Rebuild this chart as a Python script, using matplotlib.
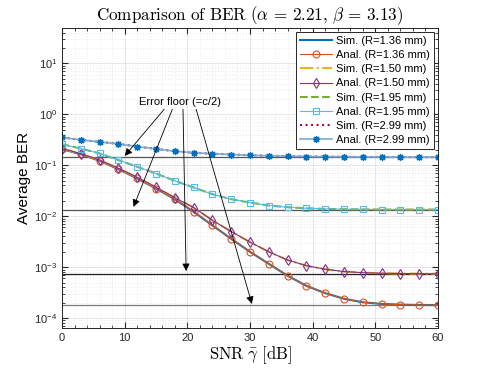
import matplotlib
matplotlib.use('Agg')
import matplotlib.pyplot as plt
import numpy as np
from matplotlib.ticker import LogLocator, MultipleLocator, NullFormatter

plt.rcParams['font.family'] = ['Liberation Sans', 'DejaVu Sans']
plt.rcParams['mathtext.fontset'] = 'cm'

# SNR in dB, marker every 3 dB
snr = np.arange(0, 61, 3)

# BER
ber_136 = [0.206, 0.164, 0.122, 0.0835, 0.055, 0.0349, 0.0215, 0.0122, 0.0066, 0.0036, 0.0020,
           0.00116, 6.8e-4, 4.3e-4, 3.1e-4, 2.4e-4, 2.05e-4, 1.9e-4, 1.84e-4, 1.81e-4, 1.8e-4]
ber_150 = [0.212, 0.168, 0.126, 0.087, 0.058, 0.037, 0.023, 0.0148, 0.0083, 0.0050, 0.0031,
           0.0020, 0.00138, 0.00107, 9.1e-4, 8.2e-4, 7.8e-4, 7.6e-4, 7.5e-4, 7.45e-4, 7.4e-4]
ber_195 = [0.258, 0.212, 0.17, 0.126, 0.093, 0.0687, 0.0494, 0.0366, 0.027, 0.0215, 0.0185,
           0.0162, 0.0150, 0.0143, 0.0139, 0.0137, 0.0136, 0.0135, 0.0135, 0.0135, 0.0135]
ber_299 = [0.35, 0.314, 0.286, 0.262, 0.232, 0.209, 0.188, 0.175, 0.168, 0.162, 0.157,
           0.153, 0.150, 0.148, 0.147, 0.146, 0.145, 0.145, 0.144, 0.144, 0.144]

# error floors (c/2)
floors = [1.8e-4, 7.4e-4, 0.0135, 0.144]
floor_colors = ['#7a7a7a', '#222222', '#555555', '#555555']

# arrow tips / tails for the annotation
tip_x = [10, 11.4, 19.8, 30.3]
tip_y = [0.152, 0.0152, 8.4e-4, 1.9e-4]
tail_x = [16.3, 17.6, 19.3, 21.4]
tail_y = 1.25

fig = plt.figure(figsize=(4.85, 3.69), dpi=100)
ax = fig.add_axes([0.128, 0.111, 0.775, 0.813])

for f, c in zip(floors, floor_colors):
    ax.axhline(f, color=c, lw=0.9, zorder=1)

ax.plot(snr, ber_136, '-', color='#0072BD', lw=1.5, label='Sim. (R=1.36 mm)')
ax.plot(snr, ber_136, '-o', color='#D95319', lw=0.8, ms=5, mfc='none', mew=0.8, label='Anal. (R=1.36 mm)')
ax.plot(snr, ber_150, '-.', color='#EDB120', lw=1.5, label='Sim. (R=1.50 mm)')
ax.plot(snr, ber_150, '-d', color='#7E2F8E', lw=0.8, ms=5.5, mfc='none', mew=0.8, label='Anal. (R=1.50 mm)')
ax.plot(snr, ber_195, '--', color='#77AC30', lw=1.5, label='Sim. (R=1.95 mm)')
ax.plot(snr, ber_195, '-s', color='#4DBEEE', lw=0.8, ms=5, mfc='none', mew=0.8, label='Anal. (R=1.95 mm)')
ax.plot(snr, ber_299, ':', color='#A2142F', lw=1.5, label='Sim. (R=2.99 mm)')
ax.plot(snr, ber_299, '-', color='#7aaad8', lw=1.2, marker=(8, 2, 0), ms=5, mec='#0072BD', mew=0.9,
        label='Anal. (R=2.99 mm)')

ax.text(18.8, 1.75, 'Error floor (=c/2)', fontsize=8, ha='center', va='center')
for tx, ty, sx in zip(tip_x, tip_y, tail_x):
    ax.annotate('', xy=(tx, ty), xytext=(sx, tail_y),
                arrowprops=dict(arrowstyle='-|>', color='k', lw=0.6, mutation_scale=11,
                                shrinkA=0, shrinkB=0))

ax.set_yscale('log')
ax.set_xlim(0, 60)
ax.set_ylim(6.4e-5, 49)
ax.xaxis.set_major_locator(MultipleLocator(10))
ax.xaxis.set_minor_locator(MultipleLocator(2))
ax.yaxis.set_major_locator(LogLocator(base=10, numticks=10))
ax.yaxis.set_minor_locator(LogLocator(base=10, subs=np.arange(2, 10), numticks=20))
ax.yaxis.set_minor_formatter(NullFormatter())

ax.grid(True, which='major', color='#e6e6e6', lw=0.7)
ax.grid(True, which='minor', color='#d6d6d6', lw=0.5, ls=(0, (1, 3)))
ax.set_axisbelow(True)
ax.tick_params(which='both', direction='in', top=True, right=True, labelsize=8, colors='#262626')
ax.tick_params(which='major', length=4)
ax.tick_params(which='minor', length=2)
for s in ax.spines.values():
    s.set_color('#262626')
    s.set_linewidth(0.7)

ax.set_title(r'$\mathrm{Comparison\ of\ BER\ (}\alpha\,=\,2.21\mathrm{,}\ \beta\,=\,3.13\mathrm{)}$',
             fontsize=12.3, pad=6)
ax.set_xlabel(r'$\mathrm{SNR}\ \bar{\gamma}\ \mathrm{[dB]}$', fontsize=12, labelpad=1)
ax.set_ylabel('Average BER', fontsize=11, labelpad=2)

leg = ax.legend(loc='upper right', fontsize=8, labelspacing=0.38, handlelength=2.9,
                borderpad=0.35, handletextpad=0.4, fancybox=False, framealpha=1,
                borderaxespad=0.35)
leg.get_frame().set_edgecolor('#262626')
leg.get_frame().set_linewidth(0.7)

fig.savefig('out.png', dpi=100)
